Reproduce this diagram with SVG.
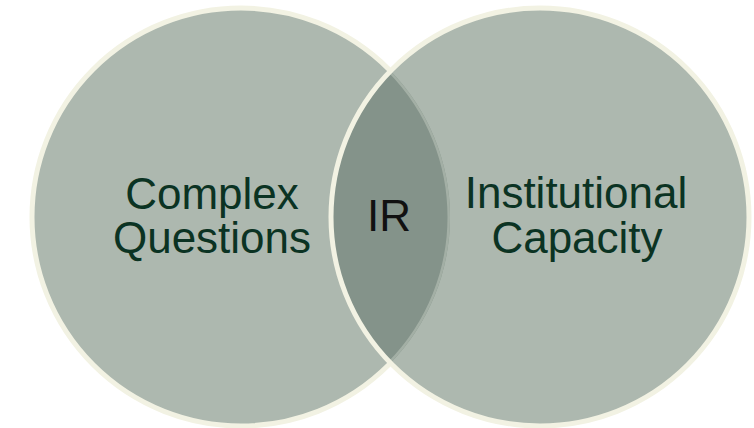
<svg xmlns="http://www.w3.org/2000/svg" width="754" height="428" viewBox="0 0 754 428">
  <style>
    .disc { fill: #adb8af; }
    .rim { fill: none; stroke: #f2f2e3; stroke-width: 5; }
    .label { font-family: "Liberation Sans", Arial, sans-serif; font-size: 44px; fill: #0b3323; text-anchor: middle; }
    .core { fill: #111111; }
  </style>
  <defs>
    <clipPath id="lensClip">
      <path d="M 390.5 70.95 A 209 209 0 0 1 390.5 363.05 A 209 209 0 0 1 390.5 70.95 Z"/>
    </clipPath>
  </defs>

  <g id="complex-questions">
    <circle class="disc" cx="241" cy="217" r="209"/>
    <circle class="rim" cx="241" cy="217" r="209"/>
  </g>

  <g id="institutional-capacity">
    <circle class="disc" cx="540" cy="217" r="209"/>
  </g>

  <g id="ir">
    <!-- overlap of the two sets -->
    <path d="M 390.5 70.95 A 209 209 0 0 1 390.5 363.05 A 209 209 0 0 1 390.5 70.95 Z" fill="#84938a"/>
    <!-- left rim showing faintly through the right set -->
    <circle cx="241" cy="217" r="209" fill="none" stroke="#a3afa5" stroke-width="5" clip-path="url(#lensClip)"/>
  </g>

  <!-- right rim sits on top of everything -->
  <circle class="rim" cx="540" cy="217" r="209"/>

  <g id="labels">
    <text class="label" x="212" y="209">Complex</text>
    <text class="label" x="212" y="253">Questions</text>
    <text class="label core" x="389" y="231">IR</text>
    <text class="label" x="576" y="208">Institutional</text>
    <text class="label" x="577" y="253">Capacity</text>
  </g>
</svg>
